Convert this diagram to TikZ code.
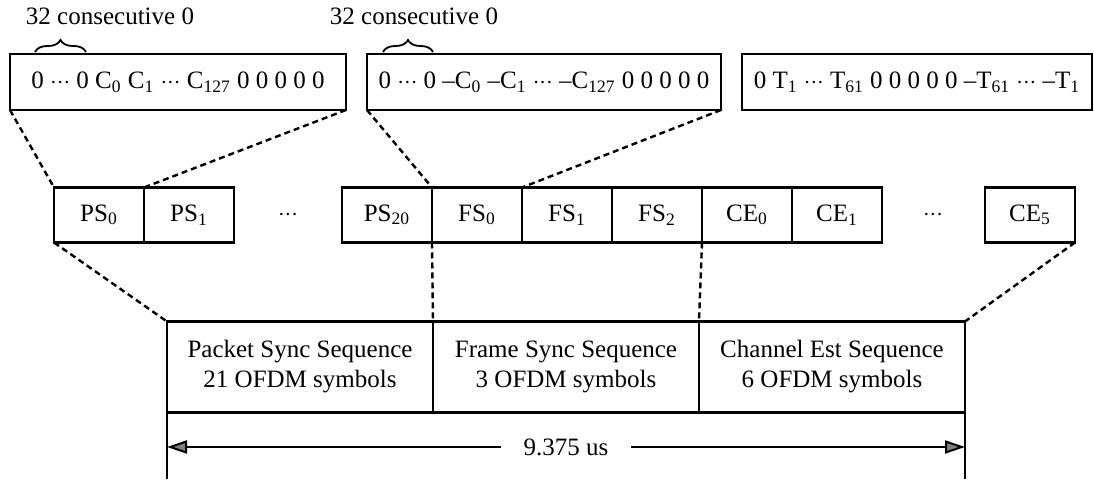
\documentclass[tikz,border=0pt]{standalone}
\usepackage{fontspec}
\setmainfont{Liberation Serif}
\usetikzlibrary{arrows.meta, positioning, decorations.pathreplacing}
\newcommand{\cdts}{\ensuremath{{\cdot}{\cdot}{\cdot}}}

\begin{document}
\begin{tikzpicture}[x=0.5pt, y=0.5pt,
	font=\fontsize{12.5}{15}\selectfont,
	seq/.style={draw, line width=1.4pt, minimum height=28pt, inner sep=0pt, outer sep=0pt},
	sym/.style={draw, line width=1.4pt, minimum width=45pt, minimum height=27.5pt, inner sep=0pt, outer sep=0pt},
	part/.style={draw, line width=1.4pt, minimum width=133pt, minimum height=45.5pt, align=center, inner sep=0pt, outer sep=0pt},
	zoomline/.style={line width=1.2pt, dash pattern=on 3pt off 2pt},
	dimarrow/.style={line width=1pt, -{Triangle[length=10pt, width=6.5pt, fill=gray]}},
	zerobrace/.style={decorate, decoration={brace, amplitude=6pt}, line width=0.9pt}]
	\useasboundingbox (0,0) rectangle (1094,481);
%	\draw[help lines, step=50] (0,0) grid (1094,481);
	\node[seq, minimum width=168pt] (seqc) at (178,399) {0 \cdts{} 0 C\textsubscript{0} C\textsubscript{1} \cdts{} C\textsubscript{127} 0 0 0 0 0};
	\node[seq, minimum width=177pt] (seqn) at (544,399) {0 \cdts{} 0 –C\textsubscript{0} –C\textsubscript{1} \cdts{} –C\textsubscript{127} 0 0 0 0 0};
	\node[seq, minimum width=175pt] (seqt) at (917,399) {0 T\textsubscript{1} \cdts{} T\textsubscript{61} 0 0 0 0 0 –T\textsubscript{61} \cdts{} –T\textsubscript{1}};
	\coordinate (b1l) at (35,429);
	\coordinate (b1r) at (86,429);
	\coordinate (b2l) at (383,429);
	\coordinate (b2r) at (433,429);
	\draw[zerobrace] (b1l) -- (b1r);
	\draw[zerobrace] (b2l) -- (b2r);
	\node[anchor=base] (lab1) at (110,456) {32 consecutive 0};
	\node[anchor=base] (lab2) at (414,456) {32 consecutive 0};

	\node[sym, anchor=west] (ps0) at (54,266) {PS\textsubscript{0}};
	\node[sym, right=0pt of ps0] (ps1) {PS\textsubscript{1}};
	\node (dotsa) at (288,266) {\cdts};
	\node[sym, anchor=west] (ps20) at (342,266) {PS\textsubscript{20}};
	\node[sym, right=0pt of ps20] (fs0) {FS\textsubscript{0}};
	\node[sym, right=0pt of fs0] (fs1) {FS\textsubscript{1}};
	\node[sym, right=0pt of fs1] (fs2) {FS\textsubscript{2}};
	\node[sym, right=0pt of fs2] (ce0) {CE\textsubscript{0}};
	\node[sym, right=0pt of ce0] (ce1) {CE\textsubscript{1}};
	\node (dotsb) at (933,266) {\cdts};
	\node[sym, anchor=west] (ce5) at (985,266) {CE\textsubscript{5}};

	\node[part, anchor=west] (pss) at (167,114) {Packet Sync Sequence\\21 OFDM symbols};
	\node[part, right=0pt of pss] (fss) {Frame Sync Sequence\\3 OFDM symbols};
	\node[part, right=0pt of fss] (ces) {Channel Est Sequence\\6 OFDM symbols};

	\draw[zoomline] (seqc.south west) -- (ps0.north west);
	\draw[zoomline] (seqc.south east) -- (ps0.north east);
	\draw[zoomline] (seqn.south west) -- (fs0.north west);
	\draw[zoomline] (seqn.south east) -- (fs0.north east);
	\draw[zoomline] (ps0.south west) -- (pss.north west);
	\draw[zoomline] (fs0.south west) -- (fss.north west);
	\draw[zoomline] (ce0.south west) -- (ces.north west);
	\draw[zoomline] (ce5.south east) -- (ces.north east);

	\coordinate (endl) at (167,2);
	\coordinate (endr) at (965,2);
	\draw[line width=1.4pt] (pss.south west) -- (endl);
	\draw[line width=1.4pt] (ces.south east) -- (endr);
	\coordinate (al) at (167,34);
	\coordinate (ar) at (965,34);
	\node[inner xsep=11pt] (dur) at (566,34) {9.375 us};
	\draw[dimarrow] (dur) -- (al);
	\draw[dimarrow] (dur) -- (ar);
\end{tikzpicture}
\end{document}
